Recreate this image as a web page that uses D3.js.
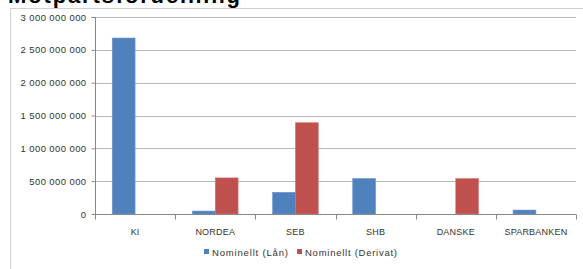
<!DOCTYPE html>
<html>
<head>
<meta charset="utf-8">
<script src="https://cdn.jsdelivr.net/npm/d3@7"></script>
<style>
  body { margin: 0; background: #fff; }
  svg { display: block; }
</style>
</head>
<body>
<div id="chart"></div>
<script>
// data
const categories = ['KI', 'NORDEA', 'SEB', 'SHB', 'DANSKE', 'SPARBANKEN'];
const seriesNames = ['Nominellt (Lån)', 'Nominellt (Derivat)'];
const lanValues = [2680000000, 45000000, 330000000, 540000000, 0, 60000000];
const derivatValues = [0, 550000000, 1390000000, 0, 540000000, 0];
const yTicks = [0, 500000000, 1000000000, 1500000000, 2000000000, 2500000000, 3000000000];

const W = 583;
const H = 269;
const margin = { top: 17, right: 7, bottom: 55, left: 95 };
const width = W - margin.left - margin.right;
const height = H - margin.top - margin.bottom;

const colors = ['#4f81bd', '#c0504d'];
const font = 'Liberation Sans, Arial, sans-serif';

const svg = d3
  .select('#chart')
  .append('svg')
  .attr('width', W)
  .attr('height', H);

// title, cut off by the top edge as in the screenshot
svg
  .append('text')
  .attr('x', 8)
  .attr('y', 3)
  .attr('font-family', font)
  .attr('font-weight', 'bold')
  .attr('font-size', 22)
  .attr('textLength', 232)
  .attr('fill', '#000')
  .text('Motpartsfördelning');

// chart frame
svg
  .append('path')
  .attr('d', `M10.5,${H} V8.5 H${W}`)
  .attr('fill', 'none')
  .attr('stroke', '#d0d0d0')
  .attr('stroke-width', 1);

const g = svg.append('g').attr('transform', `translate(${margin.left},${margin.top})`);

// scales
const x0 = d3.scaleBand().domain(categories).range([0, width]).paddingInner(0.43).paddingOuter(0.215);
const x1 = d3.scaleBand().domain([0, 1]).range([0, x0.bandwidth()]);
const yScale = d3.scaleLinear().domain([0, 3000000000]).range([height, 0]);
const fmt = v => d3.format(',')(v).replace(/,/g, ' ');

// gridlines
g.append('g')
  .selectAll('line')
  .data(yTicks.filter(d => d > 0))
  .enter()
  .append('line')
  .attr('x1', 0)
  .attr('x2', width)
  .attr('y1', d => Math.round(yScale(d)) + 0.5)
  .attr('y2', d => Math.round(yScale(d)) + 0.5)
  .attr('stroke', '#b8b8b8')
  .attr('stroke-width', 1.2);

// bars
const data = categories.map((c, i) => ({ cat: c, vals: [lanValues[i], derivatValues[i]] }));
const groups = g
  .selectAll('.grp')
  .data(data)
  .enter()
  .append('g')
  .attr('class', 'grp')
  .attr('transform', d => `translate(${x0(d.cat)},0)`);

groups
  .selectAll('rect')
  .data(d => d.vals.map((v, k) => ({ v, k })).filter(e => e.v > 0))
  .enter()
  .append('rect')
  .attr('x', d => x1(d.k))
  .attr('y', d => yScale(d.v))
  .attr('width', x1.bandwidth())
  .attr('height', d => height - yScale(d.v))
  .attr('fill', d => colors[d.k])
  .attr('stroke', d => (d.k === 0 ? '#6d97cb' : '#d27a78'))
  .attr('stroke-width', 0.6);

// y axis
const yAxis = g
  .append('g')
  .attr('transform', 'translate(0.5,0)')
  .call(d3.axisLeft(yScale).tickValues(yTicks).tickFormat(fmt).tickSize(4).tickPadding(5));
yAxis.selectAll('path, line').attr('stroke', '#888');
yAxis.select('.domain').attr('d', `M0,0V${height}`);
yAxis
  .selectAll('text')
  .attr('font-family', font)
  .attr('font-size', 9.5)
  .attr('letter-spacing', 0.4)
  .attr('fill', '#333');

// x axis with ticks on the category boundaries
const xAxis = g.append('g').attr('transform', `translate(0,${Math.round(height) + 0.5})`);
xAxis
  .append('line')
  .attr('x1', 0)
  .attr('x2', width)
  .attr('stroke', '#888');
const step = x0.step();
xAxis
  .selectAll('.tick')
  .data(d3.range(categories.length + 1))
  .enter()
  .append('line')
  .attr('x1', d => Math.round(d * step) + 0.5)
  .attr('x2', d => Math.round(d * step) + 0.5)
  .attr('y1', 0)
  .attr('y2', 5)
  .attr('stroke', '#888');
xAxis
  .selectAll('text')
  .data(categories)
  .enter()
  .append('text')
  .attr('x', d => x0(d) + x0.bandwidth() / 2)
  .attr('y', 20)
  .attr('text-anchor', 'middle')
  .attr('font-family', font)
  .attr('font-size', 9)
  .attr('letter-spacing', 0.2)
  .attr('fill', '#333')
  .text(d => d);

// legend
const legendX = [204, 297];
const legendLen = [76, 92];
const legend = svg
  .selectAll('.leg')
  .data(seriesNames)
  .enter()
  .append('g')
  .attr('class', 'leg')
  .attr('transform', (d, i) => `translate(${legendX[i]},249)`);
legend
  .append('rect')
  .attr('width', 5)
  .attr('height', 5)
  .attr('fill', (d, i) => colors[i]);
legend
  .append('text')
  .attr('x', 8)
  .attr('y', 6.5)
  .attr('font-family', font)
  .attr('font-size', 9.5)
  .attr('textLength', (d, i) => legendLen[i])
  .attr('fill', '#333')
  .text(d => d);
</script>
</body>
</html>
